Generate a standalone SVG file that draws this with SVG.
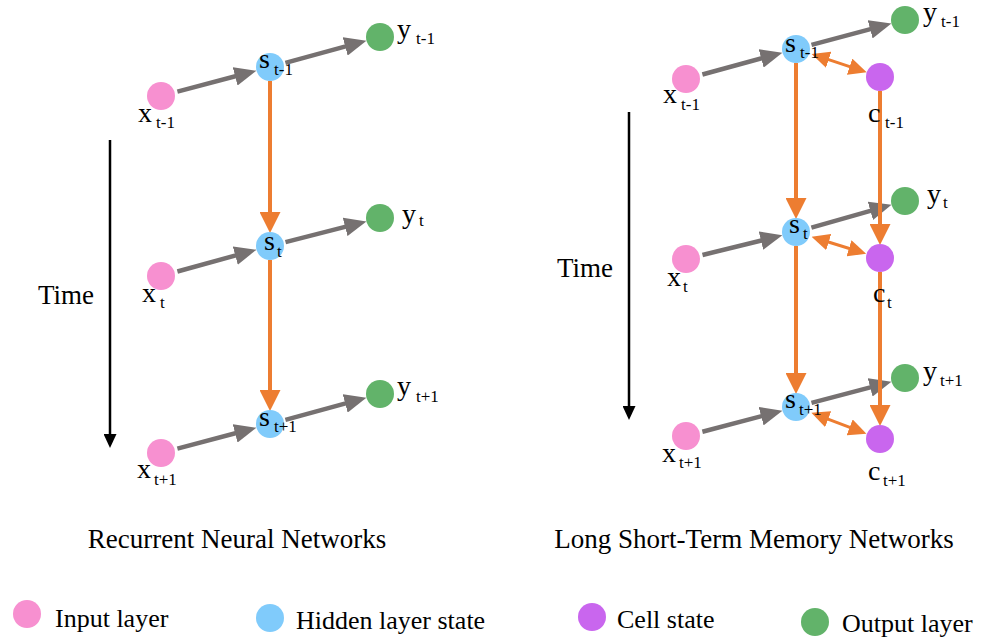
<svg xmlns="http://www.w3.org/2000/svg" width="984" height="641" viewBox="0 0 984 641">
<style>
text{font-family:"Liberation Serif","Times New Roman",serif;fill:#000}
.m{font-size:28px}
.sb{font-size:17px}
.t{font-size:27px}
.lg{font-size:26px}
.in{fill:#F790D0}
.hd{fill:#80CBFB}
.cl{fill:#C966EE}
.ou{fill:#62B36A}
.g{stroke:#767171;stroke-width:4.5;fill:none;marker-end:url(#ga)}
.o{stroke:#ED7D31;stroke-width:4;fill:none;marker-end:url(#oa)}
.d{stroke:#ED7D31;stroke-width:3;fill:none;marker-start:url(#da);marker-end:url(#da)}
.k{stroke:#000;stroke-width:2.5;fill:none;marker-end:url(#ka)}
</style>
<defs>
<marker id="ga" markerUnits="userSpaceOnUse" markerWidth="22" markerHeight="19" refX="10" refY="9.5" orient="auto"><path d="M0,0 L22,9.5 L0,19 Z" fill="#767171"/></marker>
<marker id="oa" markerUnits="userSpaceOnUse" markerWidth="21" markerHeight="21" refX="10" refY="10.5" orient="auto"><path d="M0,0 L21,10.5 L0,21 Z" fill="#ED7D31"/></marker>
<marker id="da" markerUnits="userSpaceOnUse" markerWidth="18" markerHeight="17" refX="8" refY="8.5" orient="auto-start-reverse"><path d="M0,0 L18,8.5 L0,17 Z" fill="#ED7D31"/></marker>
<marker id="ka" markerUnits="userSpaceOnUse" markerWidth="14" markerHeight="13" refX="7" refY="6.5" orient="auto"><path d="M0,0 L14,6.5 L0,13 Z" fill="#000"/></marker>
</defs>
<rect width="984" height="641" fill="#fff"/>

<g id="connectors">
<line class="g" x1="177.4" y1="91.6" x2="244.8" y2="73.8"/>
<line class="g" x1="285.4" y1="62.8" x2="354.8" y2="43.8"/>
<line class="g" x1="177.4" y1="271.5" x2="244.9" y2="252.9"/>
<line class="g" x1="285.5" y1="242.1" x2="354.8" y2="224.4"/>
<line class="g" x1="177.4" y1="448.6" x2="244.8" y2="430.8"/>
<line class="g" x1="285.4" y1="419.8" x2="354.8" y2="400.8"/>
<line class="o" x1="270" y1="81" x2="270" y2="222"/>
<line class="o" x1="270" y1="260" x2="270" y2="400"/>
<line class="k" x1="110" y1="140" x2="110" y2="441"/>
<line class="g" x1="702.4" y1="74.5" x2="770.8" y2="55.8"/>
<line class="g" x1="811.5" y1="44.9" x2="879.8" y2="26.7"/>
<line class="g" x1="702.5" y1="255.0" x2="770.7" y2="238.2"/>
<line class="g" x1="811.4" y1="227.6" x2="880.0" y2="208.1"/>
<line class="g" x1="702.4" y1="431.7" x2="770.8" y2="413.7"/>
<line class="g" x1="811.5" y1="402.9" x2="879.8" y2="384.8"/>
<line class="o" x1="796" y1="63" x2="796" y2="208"/>
<line class="o" x1="796" y1="246" x2="796" y2="383"/>
<line class="o" x1="880" y1="91" x2="880" y2="234"/>
<line class="o" x1="880" y1="272" x2="880" y2="415"/>
<line class="d" x1="821.1" y1="57.2" x2="857.2" y2="69.2"/>
<line class="d" x1="821.1" y1="239.7" x2="856.6" y2="250.7"/>
<line class="d" x1="820.7" y1="416.3" x2="857.1" y2="430.2"/>
<line class="k" x1="629" y1="112" x2="629" y2="413"/>
</g>

<g id="rnn-x1"><circle class="in" cx="161" cy="96" r="14"/><text><tspan class="m" x="138" y="122">x</tspan><tspan class="sb" x="156" y="128">t-1</tspan></text></g>
<g id="rnn-s1"><circle class="hd" cx="270" cy="67" r="14"/><text><tspan class="m" x="259" y="68">s</tspan><tspan class="sb" x="274" y="75">t-1</tspan></text></g>
<g id="rnn-y1"><circle class="ou" cx="380" cy="37" r="14"/><text><tspan class="m" x="397" y="38">y</tspan><tspan class="sb" x="416" y="44">t-1</tspan></text></g>
<g id="rnn-x2"><circle class="in" cx="161" cy="276" r="14"/><text><tspan class="m" x="142" y="302">x</tspan><tspan class="sb" x="160" y="308">t</tspan></text></g>
<g id="rnn-s2"><circle class="hd" cx="270" cy="246" r="14"/><text><tspan class="m" x="264" y="250">s</tspan><tspan class="sb" x="277" y="257">t</tspan></text></g>
<g id="rnn-y2"><circle class="ou" cx="380" cy="218" r="14"/><text><tspan class="m" x="402" y="223">y</tspan><tspan class="sb" x="419" y="226">t</tspan></text></g>
<g id="rnn-x3"><circle class="in" cx="161" cy="453" r="14"/><text><tspan class="m" x="137" y="478">x</tspan><tspan class="sb" x="154" y="485">t+1</tspan></text></g>
<g id="rnn-s3"><circle class="hd" cx="270" cy="424" r="14"/><text><tspan class="m" x="259" y="426">s</tspan><tspan class="sb" x="274" y="432">t+1</tspan></text></g>
<g id="rnn-y3"><circle class="ou" cx="380" cy="394" r="14"/><text><tspan class="m" x="397" y="395">y</tspan><tspan class="sb" x="416" y="402">t+1</tspan></text></g>

<g id="lstm-x1"><circle class="in" cx="686" cy="79" r="14"/><text><tspan class="m" x="663" y="103">x</tspan><tspan class="sb" x="681" y="110">t-1</tspan></text></g>
<g id="lstm-s1"><circle class="hd" cx="796" cy="49" r="14"/><text><tspan class="m" x="785" y="52">s</tspan><tspan class="sb" x="800" y="58">t-1</tspan></text></g>
<g id="lstm-y1"><circle class="ou" cx="905" cy="20" r="14"/><text><tspan class="m" x="923" y="21">y</tspan><tspan class="sb" x="941" y="27">t-1</tspan></text></g>
<g id="lstm-c1"><circle class="cl" cx="880" cy="77" r="14"/><text><tspan class="m" x="868" y="122">c</tspan><tspan class="sb" x="885" y="128">t-1</tspan></text></g>
<g id="lstm-x2"><circle class="in" cx="686" cy="259" r="14"/><text><tspan class="m" x="667" y="286">x</tspan><tspan class="sb" x="683" y="292">t</tspan></text></g>
<g id="lstm-s2"><circle class="hd" cx="796" cy="232" r="14"/><text><tspan class="m" x="789" y="233">s</tspan><tspan class="sb" x="803" y="239">t</tspan></text></g>
<g id="lstm-y2"><circle class="ou" cx="905" cy="201" r="14"/><text><tspan class="m" x="927" y="203">y</tspan><tspan class="sb" x="943" y="208">t</tspan></text></g>
<g id="lstm-c2"><circle class="cl" cx="880" cy="258" r="14"/><text><tspan class="m" x="873" y="302">c</tspan><tspan class="sb" x="887" y="308">t</tspan></text></g>
<g id="lstm-x3"><circle class="in" cx="686" cy="436" r="14"/><text><tspan class="m" x="662" y="462">x</tspan><tspan class="sb" x="679" y="468">t+1</tspan></text></g>
<g id="lstm-s3"><circle class="hd" cx="796" cy="407" r="14"/><text><tspan class="m" x="785" y="408">s</tspan><tspan class="sb" x="799" y="415">t+1</tspan></text></g>
<g id="lstm-y3"><circle class="ou" cx="905" cy="378" r="14"/><text><tspan class="m" x="923" y="380">y</tspan><tspan class="sb" x="940" y="386">t+1</tspan></text></g>
<g id="lstm-c3"><circle class="cl" cx="880" cy="439" r="14"/><text><tspan class="m" x="868" y="480">c</tspan><tspan class="sb" x="883" y="486">t+1</tspan></text></g>

<g id="labels">
<text class="t" x="38" y="304">Time</text>
<text class="t" x="557" y="277">Time</text>
<text class="t" x="237" y="548" text-anchor="middle">Recurrent Neural Networks</text>
<text class="t" x="754" y="548" text-anchor="middle">Long Short-Term Memory Networks</text>
</g>

<g id="legend">
<g id="legend-input"><circle class="in" cx="27" cy="614" r="14"/><text class="lg" x="55" y="627">Input layer</text></g>
<g id="legend-hidden"><circle class="hd" cx="270" cy="618" r="14"/><text class="lg" x="296" y="629">Hidden layer state</text></g>
<g id="legend-cell"><circle class="cl" cx="592" cy="617" r="14"/><text class="lg" x="617" y="628">Cell state</text></g>
<g id="legend-output"><circle class="ou" cx="815" cy="622" r="14"/><text class="lg" x="842" y="632">Output layer</text></g>
</g>
</svg>
